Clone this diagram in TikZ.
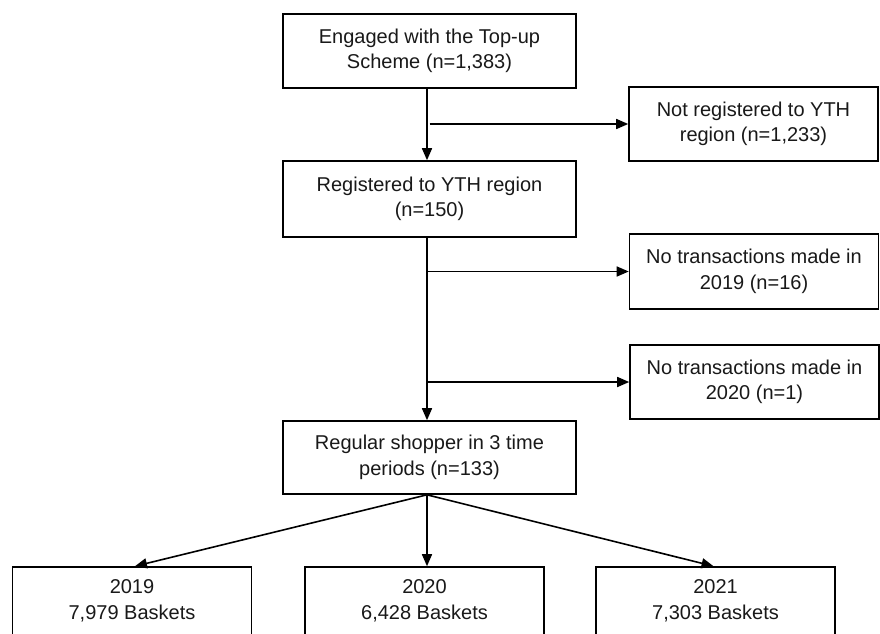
\documentclass[tikz,border=0pt]{standalone}
\usepackage{fontspec}
\setmainfont{Liberation Sans}
\usetikzlibrary{arrows.meta}
\begin{document}
\begin{tikzpicture}[x=1pt,y=-1pt,
  box/.style={draw=black,line width=1.6pt,fill=white,align=center,inner sep=0pt,
    font=\fontsize{20}{25.5}\selectfont,text=black!90},
  mainbox/.style={box,minimum width=293pt},
  sidebox/.style={box,minimum width=249pt},
  botbox/.style={box,minimum width=239pt,minimum height=68pt},
  arr/.style={draw=black,line width=1.6pt,-{Triangle[length=12pt,width=10pt]}}]
\clip (0,0) rectangle (880,633);
\fill[white] (0,0) rectangle (880,633);
\coordinate (tr) at (427,0);
\node[mainbox,minimum height=74pt] (top) at (429.5,51) {Engaged with the Top-up\\Scheme (n=1,383)};
\node[mainbox,minimum height=76pt] (reg) at (429.5,199) {Registered to YTH region\\(n=150)};
\node[mainbox,minimum height=73pt] (shop) at (429.5,457.5) {Regular shopper in 3 time\\periods (n=133)};
\node[sidebox,minimum height=74pt] (r1) at (753.5,124) {Not registered to YTH\\region (n=1,233)};
\node[sidebox,minimum height=75pt] (r2) at (754,271.5) {No transactions made in\\2019 (n=16)};
\node[sidebox,minimum height=74pt] (r3) at (754.5,382) {No transactions made in\\2020 (n=1)};
\node[botbox] (b1) at (132,601) {2019\\7,979 Baskets};
\node[botbox] (b2) at (424.5,601) {2020\\6,428 Baskets};
\node[botbox] (b3) at (715.5,601) {2021\\7,303 Baskets};
\draw[arr] (top.south -| tr) -- (reg.north -| tr);
\draw[arr] (top.south |- r1.west) -- (r1.west);
\draw[arr] (reg.south -| tr) -- (shop.north -| tr);
\draw[arr] (reg.south -| tr) |- (r2.west);
\draw[arr] (reg.south -| tr) |- (r3.west);
\coordinate (fan) at (shop.south -| tr);
\draw[arr] (fan) -- ([xshift=3pt]b1.north);
\draw[arr] (fan) -- (b2.north -| tr);
\draw[arr] (fan) -- ([xshift=-2pt]b3.north);
\end{tikzpicture}
\end{document}
